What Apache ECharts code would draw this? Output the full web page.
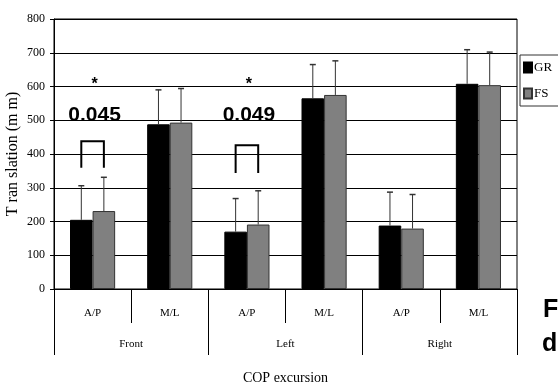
<!DOCTYPE html>
<html>
<head>
<meta charset="utf-8">
<script src="https://cdn.jsdelivr.net/npm/echarts@6/dist/echarts.min.js"></script>
<style>html,body{margin:0;padding:0;background:#fff}#c{width:558px;height:385px}</style>
</head>
<body>
<div id="c"></div>
<script>
const categories = ['A/P', 'M/L', 'A/P', 'M/L', 'A/P', 'M/L'];
const groups = ['Front', 'Left', 'Right'];
const seriesNames = ['GR', 'FS'];
const grValues = [205, 488, 170, 565, 188, 608];
const fsValues = [231, 493, 191, 575, 179, 604];
const grSD = [101, 102, 98, 100, 99, 101];
const fsSD = [100, 101, 100, 101, 101, 98];
const yTicks = [0, 100, 200, 300, 400, 500, 600, 700, 800];
// brackets: [category index, top value, leg bottom value]
const brackets = [[0, 438, 359], [2, 426, 344]];
// annotations: [category index, p-value text, value position, star position]
const pLabels = [[0, '0.045', 516, 619], [2, '0.049', 516, 619]];

const serif = '"Liberation Serif", "Times New Roman", serif';
const sans = '"Liberation Sans", Arial, sans-serif';
const GAP = 0.415;

const chart = echarts.init(document.getElementById('c'), null, {renderer: 'canvas'});

function barW(api) { return api.size([1, 0])[0] * (1 - GAP) / 2; }

const errData = [];
grValues.forEach((v, i) => errData.push([i, v, grSD[i], -1]));
fsValues.forEach((v, i) => errData.push([i, v, fsSD[i], 1]));

chart.setOption({
  backgroundColor: '#fff',
  animation: false,
  grid: {left: 54, right: 41, top: 19, bottom: 96, containLabel: false, outerBoundsMode: 'none',
    show: true, borderColor: '#000', borderWidth: 1, backgroundColor: 'transparent'},
  legend: {
    data: seriesNames, orient: 'vertical', left: 520, top: 55,
    itemWidth: 8, itemHeight: 10, itemGap: 13,
    padding: [6, 20, 6, 3], borderColor: '#333', borderWidth: 1,
    backgroundColor: '#fff',
    textStyle: {fontFamily: serif, fontSize: 13, color: '#000', padding: [0, 0, 0, -3]},
    icon: 'rect'
  },
  xAxis: [{
    type: 'category', data: categories, position: 'bottom',
    axisLine: {show: true, lineStyle: {color: '#000', width: 1}},
    axisTick: {show: true, length: 34, alignWithLabel: false, lineStyle: {color: '#000'}},
    axisLabel: {fontFamily: serif, fontSize: 11, color: '#000', margin: 19},
    splitLine: {show: false}
  }, {
    type: 'category', data: groups, position: 'bottom',
    axisLine: {show: false},
    axisTick: {show: true, length: 66, alignWithLabel: false, lineStyle: {color: '#000'}},
    axisLabel: {fontFamily: serif, fontSize: 11, color: '#000', margin: 50},
    name: 'COP excursion', nameLocation: 'middle', nameGap: 82, nameMoveOverlap: false,
    nameTextStyle: {fontFamily: serif, fontSize: 14, color: '#000'}
  }],
  yAxis: {
    type: 'value', min: 0, max: 800, interval: 100,
    axisLine: {show: true, lineStyle: {color: '#000'}},
    axisTick: {show: true, length: 4, lineStyle: {color: '#000'}},
    axisLabel: {fontFamily: serif, fontSize: 12, color: '#000', margin: 9,
      formatter: v => yTicks.includes(v) ? String(v) : ''},
    splitLine: {show: true, lineStyle: {color: '#000', width: 1}},
    name: 'T ran slation (m m)', nameLocation: 'middle', nameGap: 33, nameRotate: 90, nameMoveOverlap: false,
    nameTextStyle: {fontFamily: serif, fontSize: 16, color: '#000'}
  },
  series: [{
    name: 'GR', type: 'bar', data: grValues, barGap: '0%', barCategoryGap: (GAP * 100) + '%',
    itemStyle: {color: '#000', borderColor: '#000', borderWidth: 1}
  }, {
    name: 'FS', type: 'bar', data: fsValues,
    itemStyle: {color: '#808080', borderColor: '#333', borderWidth: 1}
  }, {
    type: 'custom', data: errData, z: 5,
    renderItem: (params, api) => {
      const w = barW(api);
      const base = api.coord([api.value(0), api.value(1)]);
      const top = api.coord([api.value(0), api.value(1) + api.value(2)]);
      const x = base[0] + api.value(3) * w / 2;
      return {type: 'group', children: [
        {type: 'line', shape: {x1: x, y1: base[1], x2: x, y2: top[1]}, style: {stroke: '#333', lineWidth: 1}},
        {type: 'line', shape: {x1: x - 3, y1: top[1], x2: x + 3, y2: top[1]}, style: {stroke: '#333', lineWidth: 1.5}}
      ]};
    }
  }, {
    type: 'custom', data: brackets, z: 5,
    renderItem: (params, api) => {
      const w = barW(api);
      const t = api.coord([api.value(0), api.value(1)]);
      const b = api.coord([api.value(0), api.value(2)]);
      const x1 = t[0] - w / 2, x2 = t[0] + w / 2;
      return {type: 'polyline', shape: {points: [[x1, b[1]], [x1, t[1]], [x2, t[1]], [x2, b[1]]]},
        style: {stroke: '#000', lineWidth: 2, fill: null}};
    }
  }, {
    type: 'custom', data: pLabels, z: 6,
    renderItem: (params, api) => {
      const p = api.coord([api.value(0), api.value(2)]);
      const s = api.coord([api.value(0), api.value(3)]);
      return {type: 'group', children: [
        {type: 'text', x: p[0] + 2, y: p[1], style: {text: pLabels[params.dataIndex][1], font: 'bold 21px ' + sans, fill: '#000', align: 'center', verticalAlign: 'middle'}},
        {type: 'text', x: s[0] + 2, y: s[1] + 5, style: {text: '*', font: 'bold 16px ' + sans, fill: '#000', align: 'center', verticalAlign: 'middle'}}
      ]};
    }
  }],
  graphic: [
    {type: 'text', left: 543, top: 298, style: {text: 'F', font: 'bold 25px ' + sans, fill: '#000'}},
    {type: 'text', left: 542, top: 332, style: {text: 'd', font: 'bold 25px ' + sans, fill: '#000'}}
  ]
});
</script>
</body>
</html>
